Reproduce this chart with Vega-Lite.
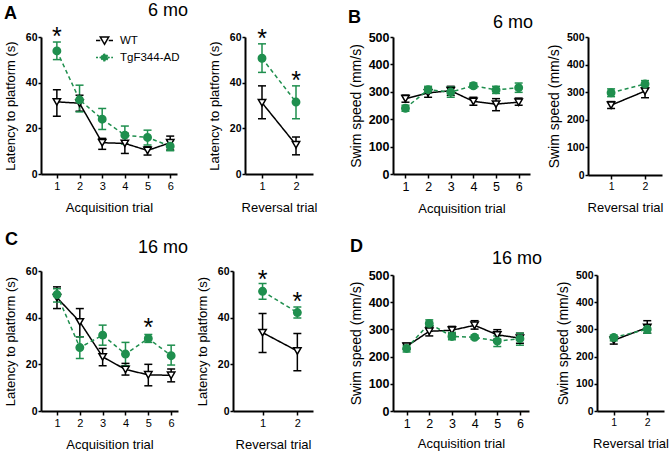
{
  "$schema": "https://vega.github.io/schema/vega-lite/v6.json",
  "padding": {"left": 4, "top": 2, "right": 0, "bottom": 0},
  "data": {"name": "d"},
  "datasets": {
    "d": [
      {"p": "A1", "g": "WT", "t": 1, "m": 31.6, "lo": 25.3, "hi": 36.9},
      {"p": "A1", "g": "WT", "t": 2, "m": 31.0, "lo": 27.5, "hi": 34.5},
      {"p": "A1", "g": "WT", "t": 3, "m": 13.7, "lo": 10.8, "hi": 15.6},
      {"p": "A1", "g": "WT", "t": 4, "m": 13.4, "lo": 9.0, "hi": 17.8},
      {"p": "A1", "g": "WT", "t": 5, "m": 10.3, "lo": 8.3, "hi": 11.9},
      {"p": "A1", "g": "WT", "t": 6, "m": 13.7, "lo": 10.5, "hi": 16.6},
      {"p": "A1", "g": "TgF344-AD", "t": 1, "m": 53.9, "lo": 50.1, "hi": 57.8, "s": 62.6},
      {"p": "A1", "g": "TgF344-AD", "t": 2, "m": 32.5, "lo": 27.2, "hi": 38.9},
      {"p": "A1", "g": "TgF344-AD", "t": 3, "m": 24.0, "lo": 19.5, "hi": 28.7},
      {"p": "A1", "g": "TgF344-AD", "t": 4, "m": 17.0, "lo": 13.1, "hi": 21.0},
      {"p": "A1", "g": "TgF344-AD", "t": 5, "m": 16.0, "lo": 12.7, "hi": 19.2},
      {"p": "A1", "g": "TgF344-AD", "t": 6, "m": 12.2, "lo": 10.2, "hi": 14.6},
      {"p": "A2", "g": "WT", "t": 1, "m": 31.2, "lo": 24.2, "hi": 38.6},
      {"p": "A2", "g": "WT", "t": 2, "m": 12.8, "lo": 8.4, "hi": 16.2},
      {"p": "A2", "g": "TgF344-AD", "t": 1, "m": 50.7, "lo": 44.5, "hi": 57.0, "s": 61.8},
      {"p": "A2", "g": "TgF344-AD", "t": 2, "m": 31.5, "lo": 24.2, "hi": 38.6, "s": 43.2},
      {"p": "B1", "g": "WT", "t": 1, "m": 275, "lo": 262, "hi": 288},
      {"p": "B1", "g": "WT", "t": 2, "m": 296, "lo": 280, "hi": 314},
      {"p": "B1", "g": "WT", "t": 3, "m": 304, "lo": 287, "hi": 320},
      {"p": "B1", "g": "WT", "t": 4, "m": 265, "lo": 251, "hi": 280},
      {"p": "B1", "g": "WT", "t": 5, "m": 255, "lo": 231, "hi": 275},
      {"p": "B1", "g": "WT", "t": 6, "m": 262, "lo": 251, "hi": 277},
      {"p": "B1", "g": "TgF344-AD", "t": 1, "m": 240, "lo": 229, "hi": 251},
      {"p": "B1", "g": "TgF344-AD", "t": 2, "m": 308, "lo": 296, "hi": 320},
      {"p": "B1", "g": "TgF344-AD", "t": 3, "m": 299, "lo": 280, "hi": 318},
      {"p": "B1", "g": "TgF344-AD", "t": 4, "m": 322, "lo": 314, "hi": 332},
      {"p": "B1", "g": "TgF344-AD", "t": 5, "m": 307, "lo": 294, "hi": 320},
      {"p": "B1", "g": "TgF344-AD", "t": 6, "m": 315, "lo": 298, "hi": 332},
      {"p": "B2", "g": "WT", "t": 1, "m": 253, "lo": 241, "hi": 266},
      {"p": "B2", "g": "WT", "t": 2, "m": 304, "lo": 280, "hi": 330},
      {"p": "B2", "g": "TgF344-AD", "t": 1, "m": 298, "lo": 284, "hi": 312},
      {"p": "B2", "g": "TgF344-AD", "t": 2, "m": 330, "lo": 318, "hi": 342},
      {"p": "C1", "g": "WT", "t": 1, "m": 48.6, "lo": 43.9, "hi": 53.2},
      {"p": "C1", "g": "WT", "t": 2, "m": 38.2, "lo": 31.8, "hi": 43.9},
      {"p": "C1", "g": "WT", "t": 3, "m": 23.2, "lo": 19.4, "hi": 26.8},
      {"p": "C1", "g": "WT", "t": 4, "m": 17.8, "lo": 15.4, "hi": 20.4},
      {"p": "C1", "g": "WT", "t": 5, "m": 15.5, "lo": 10.8, "hi": 20.0},
      {"p": "C1", "g": "WT", "t": 6, "m": 15.3, "lo": 12.5, "hi": 18.0},
      {"p": "C1", "g": "TgF344-AD", "t": 1, "m": 49.9, "lo": 46.7, "hi": 52.4},
      {"p": "C1", "g": "TgF344-AD", "t": 2, "m": 27.2, "lo": 22.5, "hi": 31.8},
      {"p": "C1", "g": "TgF344-AD", "t": 3, "m": 32.5, "lo": 28.2, "hi": 36.8},
      {"p": "C1", "g": "TgF344-AD", "t": 4, "m": 24.4, "lo": 19.4, "hi": 29.4},
      {"p": "C1", "g": "TgF344-AD", "t": 5, "m": 31.1, "lo": 29.4, "hi": 32.8, "s": 38.1},
      {"p": "C1", "g": "TgF344-AD", "t": 6, "m": 23.7, "lo": 19.7, "hi": 28.2},
      {"p": "C2", "g": "WT", "t": 1, "m": 33.6, "lo": 25.1, "hi": 41.8},
      {"p": "C2", "g": "WT", "t": 2, "m": 25.7, "lo": 17.2, "hi": 33.2},
      {"p": "C2", "g": "TgF344-AD", "t": 1, "m": 51.3, "lo": 47.9, "hi": 54.6, "s": 58.9},
      {"p": "C2", "g": "TgF344-AD", "t": 2, "m": 42.2, "lo": 39.9, "hi": 44.6, "s": 49.1},
      {"p": "D1", "g": "WT", "t": 1, "m": 238, "lo": 227, "hi": 249},
      {"p": "D1", "g": "WT", "t": 2, "m": 293, "lo": 276, "hi": 311},
      {"p": "D1", "g": "WT", "t": 3, "m": 297, "lo": 283, "hi": 311},
      {"p": "D1", "g": "WT", "t": 4, "m": 315, "lo": 301, "hi": 332},
      {"p": "D1", "g": "WT", "t": 5, "m": 280, "lo": 264, "hi": 299},
      {"p": "D1", "g": "WT", "t": 6, "m": 268, "lo": 249, "hi": 286},
      {"p": "D1", "g": "TgF344-AD", "t": 1, "m": 230, "lo": 217, "hi": 242},
      {"p": "D1", "g": "TgF344-AD", "t": 2, "m": 322, "lo": 307, "hi": 335},
      {"p": "D1", "g": "TgF344-AD", "t": 3, "m": 274, "lo": 262, "hi": 289},
      {"p": "D1", "g": "TgF344-AD", "t": 4, "m": 271, "lo": 264, "hi": 279},
      {"p": "D1", "g": "TgF344-AD", "t": 5, "m": 257, "lo": 237, "hi": 276},
      {"p": "D1", "g": "TgF344-AD", "t": 6, "m": 266, "lo": 242, "hi": 286},
      {"p": "D2", "g": "WT", "t": 1, "m": 260, "lo": 246, "hi": 270},
      {"p": "D2", "g": "WT", "t": 2, "m": 307, "lo": 286, "hi": 332},
      {"p": "D2", "g": "TgF344-AD", "t": 1, "m": 270, "lo": 258, "hi": 279},
      {"p": "D2", "g": "TgF344-AD", "t": 2, "m": 301, "lo": 286, "hi": 316}
    ]
  },
  "spacing": 31,
  "resolve": {"scale": {"color": "independent", "fill": "independent", "shape": "independent", "strokeDash": "independent"}, "legend": {"color": "independent", "fill": "independent", "shape": "independent", "strokeDash": "independent"}},
  "hconcat": [
    {
      "spacing": 17,
      "resolve": {"scale": {"color": "independent", "fill": "independent", "shape": "independent", "strokeDash": "independent"}, "legend": {"color": "independent", "fill": "independent", "shape": "independent", "strokeDash": "independent"}},
      "vconcat": [
        {
          "bounds": "flush",
          "spacing": 68,
          "title": {"text": "6 mo", "anchor": "start", "frame": "group", "dx": 107, "offset": -15, "fontWeight": "normal", "fontSize": 18},
          "resolve": {"scale": {"color": "independent", "fill": "independent", "shape": "independent", "strokeDash": "independent"}, "legend": {"color": "independent", "fill": "independent", "shape": "independent", "strokeDash": "independent"}},
          "hconcat": [
            {
              "width": 136, "height": 137,
              "title": {"text": "A", "dx": -37, "offset": 2, "fontWeight": "bold"},
              "transform": [{"filter": "datum.p === 'A1'"}],
              "resolve": {"scale": {"color": "independent", "fill": "independent", "shape": "independent", "strokeDash": "independent"}, "legend": {"color": "independent", "fill": "independent", "shape": "independent", "strokeDash": "independent"}},
              "encoding": {
                "x": {"field": "t", "type": "quantitative", "scale": {"domain": [0.3, 6.3], "nice": false, "zero": false}, "axis": {"values": [1, 2, 3, 4, 5, 6], "format": "d", "title": "Acquisition trial"}},
                "color": {"field": "g", "type": "nominal", "scale": {"domain": ["WT", "TgF344-AD"], "range": ["#000000", "#1f8f4e"]}, "legend": null}
              },
              "layer": [
                {"mark": {"type": "rule", "strokeWidth": 1.5}, "encoding": {"y": {"field": "lo", "type": "quantitative", "scale": {"domain": [0, 60], "nice": false, "zero": false}, "axis": {"values": [0, 20, 40, 60], "title": "Latency to platform (s)"}}, "y2": {"field": "hi"}}},
                {"mark": {"type": "tick", "orient": "horizontal", "size": 8, "thickness": 1.5, "opacity": 1}, "encoding": {"y": {"field": "lo", "type": "quantitative", "scale": {"domain": [0, 60], "nice": false, "zero": false}, "axis": {"values": [0, 20, 40, 60], "title": "Latency to platform (s)"}}}},
                {"mark": {"type": "tick", "orient": "horizontal", "size": 8, "thickness": 1.5, "opacity": 1}, "encoding": {"y": {"field": "hi", "type": "quantitative", "scale": {"domain": [0, 60], "nice": false, "zero": false}, "axis": {"values": [0, 20, 40, 60], "title": "Latency to platform (s)"}}}},
                {"mark": {"type": "line", "strokeWidth": 1.5}, "encoding": {"y": {"field": "m", "type": "quantitative", "scale": {"domain": [0, 60], "nice": false, "zero": false}, "axis": {"values": [0, 20, 40, 60], "title": "Latency to platform (s)"}}, "strokeDash": {"field": "g", "type": "nominal", "scale": {"domain": ["WT", "TgF344-AD"], "range": [[1, 0], [4, 3]]}, "legend": null}}},
                {"mark": {"type": "point", "size": 55, "strokeWidth": 1.5, "opacity": 1}, "encoding": {"y": {"field": "m", "type": "quantitative", "scale": {"domain": [0, 60], "nice": false, "zero": false}, "axis": {"values": [0, 20, 40, 60], "title": "Latency to platform (s)"}}, "shape": {"field": "g", "type": "nominal", "scale": {"domain": ["WT", "TgF344-AD"], "range": ["triangle-down", "circle"]}, "legend": null}, "fill": {"field": "g", "type": "nominal", "scale": {"domain": ["WT", "TgF344-AD"], "range": ["#ffffff", "#1f8f4e"]}, "legend": null}}},
                {"transform": [{"filter": "isValid(datum.s)"}], "mark": {"type": "text", "text": "*", "fontSize": 25, "dy": 14, "baseline": "alphabetic"}, "encoding": {"y": {"field": "s", "type": "quantitative", "scale": {"domain": [0, 60], "nice": false, "zero": false}, "axis": {"values": [0, 20, 40, 60], "title": "Latency to platform (s)"}}, "color": {"value": "#000000"}}},
                {"transform": [{"filter": "false"}], "mark": {"type": "point", "strokeWidth": 1.5, "opacity": 1},
                  "encoding": {
                    "y": {"field": "m", "type": "quantitative", "scale": {"domain": [0, 60], "nice": false, "zero": false}, "axis": {"values": [0, 20, 40, 60], "title": "Latency to platform (s)"}},
                    "color": {"field": "g", "type": "nominal", "scale": {"domain": ["WT", "TgF344-AD"], "range": ["#000000", "#1f8f4e"]},
                      "legend": {"orient": "none", "legendX": 54, "legendY": -6, "title": null, "padding": 0, "symbolSize": 289, "symbolStrokeWidth": 1.5, "symbolFillColor": "#ffffff", "symbolOpacity": 1, "labelFontSize": 11.5, "labelFont": "Liberation Sans", "labelColor": "#000000", "labelOffset": 6, "rowPadding": -1}},
                    "fill": {"field": "g", "type": "nominal", "scale": {"domain": ["WT", "TgF344-AD"], "range": ["#ffffff", "#1f8f4e"]},
                      "legend": {"orient": "none", "legendX": 54, "legendY": -6, "title": null, "padding": 0, "symbolSize": 289, "symbolStrokeWidth": 1.5, "symbolFillColor": "#ffffff", "symbolOpacity": 1, "labelFontSize": 11.5, "labelFont": "Liberation Sans", "labelColor": "#000000", "labelOffset": 6, "rowPadding": -1}},
                    "shape": {"field": "g", "type": "nominal", "scale": {"domain": ["WT", "TgF344-AD"], "range": ["M-1,0H-0.5M0.5,0H1M-0.5,-0.42L0.5,-0.42L0,0.45Z", "M-1,0H-0.38M0.38,0H1M-0.38,0A0.38,0.38,0,1,1,0.38,0A0.38,0.38,0,1,1,-0.38,0Z"]},
                      "legend": {"orient": "none", "legendX": 54, "legendY": -6, "title": null, "padding": 0, "symbolSize": 289, "symbolStrokeWidth": 1.5, "symbolFillColor": "#ffffff", "symbolOpacity": 1, "labelFontSize": 11.5, "labelFont": "Liberation Sans", "labelColor": "#000000", "labelOffset": 6, "rowPadding": -1}},
                    "strokeDash": {"field": "g", "type": "nominal", "scale": {"domain": ["WT", "TgF344-AD"], "range": [[1, 0], [2, 1.5]]},
                      "legend": {"orient": "none", "legendX": 54, "legendY": -6, "title": null, "padding": 0, "symbolSize": 289, "symbolStrokeWidth": 1.5, "symbolFillColor": "#ffffff", "symbolOpacity": 1, "labelFontSize": 11.5, "labelFont": "Liberation Sans", "labelColor": "#000000", "labelOffset": 6, "rowPadding": -1}}
                  }}
              ]
            },
            {
              "width": 68, "height": 137,
              "transform": [{"filter": "datum.p === 'A2'"}],
              "encoding": {
                "x": {"field": "t", "type": "quantitative", "scale": {"domain": [0.5, 2.5], "nice": false, "zero": false}, "axis": {"values": [1, 2], "format": "d", "title": "Reversal trial"}},
                "color": {"field": "g", "type": "nominal", "scale": {"domain": ["WT", "TgF344-AD"], "range": ["#000000", "#1f8f4e"]}, "legend": null}
              },
              "layer": [
                {"mark": {"type": "rule", "strokeWidth": 1.5}, "encoding": {"y": {"field": "lo", "type": "quantitative", "scale": {"domain": [0, 60], "nice": false, "zero": false}, "axis": {"values": [0, 20, 40, 60], "title": "Latency to platform (s)"}}, "y2": {"field": "hi"}}},
                {"mark": {"type": "tick", "orient": "horizontal", "size": 8, "thickness": 1.5, "opacity": 1}, "encoding": {"y": {"field": "lo", "type": "quantitative", "scale": {"domain": [0, 60], "nice": false, "zero": false}, "axis": {"values": [0, 20, 40, 60], "title": "Latency to platform (s)"}}}},
                {"mark": {"type": "tick", "orient": "horizontal", "size": 8, "thickness": 1.5, "opacity": 1}, "encoding": {"y": {"field": "hi", "type": "quantitative", "scale": {"domain": [0, 60], "nice": false, "zero": false}, "axis": {"values": [0, 20, 40, 60], "title": "Latency to platform (s)"}}}},
                {"mark": {"type": "line", "strokeWidth": 1.5}, "encoding": {"y": {"field": "m", "type": "quantitative", "scale": {"domain": [0, 60], "nice": false, "zero": false}, "axis": {"values": [0, 20, 40, 60], "title": "Latency to platform (s)"}}, "strokeDash": {"field": "g", "type": "nominal", "scale": {"domain": ["WT", "TgF344-AD"], "range": [[1, 0], [4, 3]]}, "legend": null}}},
                {"mark": {"type": "point", "size": 55, "strokeWidth": 1.5, "opacity": 1}, "encoding": {"y": {"field": "m", "type": "quantitative", "scale": {"domain": [0, 60], "nice": false, "zero": false}, "axis": {"values": [0, 20, 40, 60], "title": "Latency to platform (s)"}}, "shape": {"field": "g", "type": "nominal", "scale": {"domain": ["WT", "TgF344-AD"], "range": ["triangle-down", "circle"]}, "legend": null}, "fill": {"field": "g", "type": "nominal", "scale": {"domain": ["WT", "TgF344-AD"], "range": ["#ffffff", "#1f8f4e"]}, "legend": null}}},
                {"transform": [{"filter": "isValid(datum.s)"}], "mark": {"type": "text", "text": "*", "fontSize": 25, "dy": 14, "baseline": "alphabetic"}, "encoding": {"y": {"field": "s", "type": "quantitative", "scale": {"domain": [0, 60], "nice": false, "zero": false}, "axis": {"values": [0, 20, 40, 60], "title": "Latency to platform (s)"}}, "color": {"value": "#000000"}}}
              ]
            }
          ]
        },
        {
          "bounds": "flush",
          "spacing": 55,
          "title": {"text": "16 mo", "anchor": "start", "frame": "group", "dx": 97, "offset": -26, "fontWeight": "normal", "fontSize": 18},
          "resolve": {"scale": {"color": "independent", "fill": "independent", "shape": "independent", "strokeDash": "independent"}, "legend": {"color": "independent", "fill": "independent", "shape": "independent", "strokeDash": "independent"}},
          "hconcat": [
            {
              "width": 137, "height": 140,
              "title": {"text": "C", "dx": -36, "offset": 17, "fontWeight": "bold"},
              "transform": [{"filter": "datum.p === 'C1'"}],
              "encoding": {
                "x": {"field": "t", "type": "quantitative", "scale": {"domain": [0.3, 6.3], "nice": false, "zero": false}, "axis": {"values": [1, 2, 3, 4, 5, 6], "format": "d", "title": "Acquisition trial"}},
                "color": {"field": "g", "type": "nominal", "scale": {"domain": ["WT", "TgF344-AD"], "range": ["#000000", "#1f8f4e"]}, "legend": null}
              },
              "layer": [
                {"mark": {"type": "rule", "strokeWidth": 1.5}, "encoding": {"y": {"field": "lo", "type": "quantitative", "scale": {"domain": [0, 60], "nice": false, "zero": false}, "axis": {"values": [0, 20, 40, 60], "title": "Latency to platform (s)"}}, "y2": {"field": "hi"}}},
                {"mark": {"type": "tick", "orient": "horizontal", "size": 8, "thickness": 1.5, "opacity": 1}, "encoding": {"y": {"field": "lo", "type": "quantitative", "scale": {"domain": [0, 60], "nice": false, "zero": false}, "axis": {"values": [0, 20, 40, 60], "title": "Latency to platform (s)"}}}},
                {"mark": {"type": "tick", "orient": "horizontal", "size": 8, "thickness": 1.5, "opacity": 1}, "encoding": {"y": {"field": "hi", "type": "quantitative", "scale": {"domain": [0, 60], "nice": false, "zero": false}, "axis": {"values": [0, 20, 40, 60], "title": "Latency to platform (s)"}}}},
                {"mark": {"type": "line", "strokeWidth": 1.5}, "encoding": {"y": {"field": "m", "type": "quantitative", "scale": {"domain": [0, 60], "nice": false, "zero": false}, "axis": {"values": [0, 20, 40, 60], "title": "Latency to platform (s)"}}, "strokeDash": {"field": "g", "type": "nominal", "scale": {"domain": ["WT", "TgF344-AD"], "range": [[1, 0], [4, 3]]}, "legend": null}}},
                {"mark": {"type": "point", "size": 55, "strokeWidth": 1.5, "opacity": 1}, "encoding": {"y": {"field": "m", "type": "quantitative", "scale": {"domain": [0, 60], "nice": false, "zero": false}, "axis": {"values": [0, 20, 40, 60], "title": "Latency to platform (s)"}}, "shape": {"field": "g", "type": "nominal", "scale": {"domain": ["WT", "TgF344-AD"], "range": ["triangle-down", "circle"]}, "legend": null}, "fill": {"field": "g", "type": "nominal", "scale": {"domain": ["WT", "TgF344-AD"], "range": ["#ffffff", "#1f8f4e"]}, "legend": null}}},
                {"transform": [{"filter": "isValid(datum.s)"}], "mark": {"type": "text", "text": "*", "fontSize": 25, "dy": 14, "baseline": "alphabetic"}, "encoding": {"y": {"field": "s", "type": "quantitative", "scale": {"domain": [0, 60], "nice": false, "zero": false}, "axis": {"values": [0, 20, 40, 60], "title": "Latency to platform (s)"}}, "color": {"value": "#000000"}}}
              ]
            },
            {
              "width": 80, "height": 140,
              "transform": [{"filter": "datum.p === 'C2'"}],
              "encoding": {
                "x": {"field": "t", "type": "quantitative", "scale": {"domain": [0.15, 2.45], "nice": false, "zero": false}, "axis": {"values": [1, 2], "format": "d", "title": "Reversal trial"}},
                "color": {"field": "g", "type": "nominal", "scale": {"domain": ["WT", "TgF344-AD"], "range": ["#000000", "#1f8f4e"]}, "legend": null}
              },
              "layer": [
                {"mark": {"type": "rule", "strokeWidth": 1.5}, "encoding": {"y": {"field": "lo", "type": "quantitative", "scale": {"domain": [0, 60], "nice": false, "zero": false}, "axis": {"values": [0, 20, 40, 60], "title": "Latency to platform (s)"}}, "y2": {"field": "hi"}}},
                {"mark": {"type": "tick", "orient": "horizontal", "size": 8, "thickness": 1.5, "opacity": 1}, "encoding": {"y": {"field": "lo", "type": "quantitative", "scale": {"domain": [0, 60], "nice": false, "zero": false}, "axis": {"values": [0, 20, 40, 60], "title": "Latency to platform (s)"}}}},
                {"mark": {"type": "tick", "orient": "horizontal", "size": 8, "thickness": 1.5, "opacity": 1}, "encoding": {"y": {"field": "hi", "type": "quantitative", "scale": {"domain": [0, 60], "nice": false, "zero": false}, "axis": {"values": [0, 20, 40, 60], "title": "Latency to platform (s)"}}}},
                {"mark": {"type": "line", "strokeWidth": 1.5}, "encoding": {"y": {"field": "m", "type": "quantitative", "scale": {"domain": [0, 60], "nice": false, "zero": false}, "axis": {"values": [0, 20, 40, 60], "title": "Latency to platform (s)"}}, "strokeDash": {"field": "g", "type": "nominal", "scale": {"domain": ["WT", "TgF344-AD"], "range": [[1, 0], [4, 3]]}, "legend": null}}},
                {"mark": {"type": "point", "size": 55, "strokeWidth": 1.5, "opacity": 1}, "encoding": {"y": {"field": "m", "type": "quantitative", "scale": {"domain": [0, 60], "nice": false, "zero": false}, "axis": {"values": [0, 20, 40, 60], "title": "Latency to platform (s)"}}, "shape": {"field": "g", "type": "nominal", "scale": {"domain": ["WT", "TgF344-AD"], "range": ["triangle-down", "circle"]}, "legend": null}, "fill": {"field": "g", "type": "nominal", "scale": {"domain": ["WT", "TgF344-AD"], "range": ["#ffffff", "#1f8f4e"]}, "legend": null}}},
                {"transform": [{"filter": "isValid(datum.s)"}], "mark": {"type": "text", "text": "*", "fontSize": 25, "dy": 14, "baseline": "alphabetic"}, "encoding": {"y": {"field": "s", "type": "quantitative", "scale": {"domain": [0, 60], "nice": false, "zero": false}, "axis": {"values": [0, 20, 40, 60], "title": "Latency to platform (s)"}}, "color": {"value": "#000000"}}}
              ]
            }
          ]
        }
      ]
    },
    {
      "spacing": 21,
      "resolve": {"scale": {"color": "independent", "fill": "independent", "shape": "independent", "strokeDash": "independent"}, "legend": {"color": "independent", "fill": "independent", "shape": "independent", "strokeDash": "independent"}},
      "vconcat": [
        {
          "bounds": "flush",
          "spacing": 58,
          "title": {"text": "6 mo", "anchor": "start", "frame": "group", "dx": 100, "offset": -23, "fontWeight": "normal", "fontSize": 18},
          "resolve": {"scale": {"color": "independent", "fill": "independent", "shape": "independent", "strokeDash": "independent"}, "legend": {"color": "independent", "fill": "independent", "shape": "independent", "strokeDash": "independent"}},
          "hconcat": [
            {
              "width": 137, "height": 137,
              "title": {"text": "B", "dx": -45, "offset": 4.5, "fontWeight": "bold"},
              "transform": [{"filter": "datum.p === 'B1'"}],
              "encoding": {
                "x": {"field": "t", "type": "quantitative", "scale": {"domain": [0.45, 6.5], "nice": false, "zero": false}, "axis": {"values": [1, 2, 3, 4, 5, 6], "format": "d", "title": "Acquisition trial", "labelFontSize": 12.5}},
                "color": {"field": "g", "type": "nominal", "scale": {"domain": ["WT", "TgF344-AD"], "range": ["#000000", "#1f8f4e"]}, "legend": null}
              },
              "layer": [
                {"mark": {"type": "rule", "strokeWidth": 1.5}, "encoding": {"y": {"field": "lo", "type": "quantitative", "scale": {"domain": [0, 500], "nice": false, "zero": false}, "axis": {"values": [0, 100, 200, 300, 400, 500], "title": "Swim speed (mm/s)", "labelFontSize": 12.5, "titleFontSize": 14, "titlePadding": 5}}, "y2": {"field": "hi"}}},
                {"mark": {"type": "tick", "orient": "horizontal", "size": 8, "thickness": 1.5, "opacity": 1}, "encoding": {"y": {"field": "lo", "type": "quantitative", "scale": {"domain": [0, 500], "nice": false, "zero": false}, "axis": {"values": [0, 100, 200, 300, 400, 500], "title": "Swim speed (mm/s)", "labelFontSize": 12.5, "titleFontSize": 14, "titlePadding": 5}}}},
                {"mark": {"type": "tick", "orient": "horizontal", "size": 8, "thickness": 1.5, "opacity": 1}, "encoding": {"y": {"field": "hi", "type": "quantitative", "scale": {"domain": [0, 500], "nice": false, "zero": false}, "axis": {"values": [0, 100, 200, 300, 400, 500], "title": "Swim speed (mm/s)", "labelFontSize": 12.5, "titleFontSize": 14, "titlePadding": 5}}}},
                {"mark": {"type": "line", "strokeWidth": 1.5}, "encoding": {"y": {"field": "m", "type": "quantitative", "scale": {"domain": [0, 500], "nice": false, "zero": false}, "axis": {"values": [0, 100, 200, 300, 400, 500], "title": "Swim speed (mm/s)", "labelFontSize": 12.5, "titleFontSize": 14, "titlePadding": 5}}, "strokeDash": {"field": "g", "type": "nominal", "scale": {"domain": ["WT", "TgF344-AD"], "range": [[1, 0], [4, 3]]}, "legend": null}}},
                {"mark": {"type": "point", "size": 55, "strokeWidth": 1.5, "opacity": 1}, "encoding": {"y": {"field": "m", "type": "quantitative", "scale": {"domain": [0, 500], "nice": false, "zero": false}, "axis": {"values": [0, 100, 200, 300, 400, 500], "title": "Swim speed (mm/s)", "labelFontSize": 12.5, "titleFontSize": 14, "titlePadding": 5}}, "shape": {"field": "g", "type": "nominal", "scale": {"domain": ["WT", "TgF344-AD"], "range": ["triangle-down", "circle"]}, "legend": null}, "fill": {"field": "g", "type": "nominal", "scale": {"domain": ["WT", "TgF344-AD"], "range": ["#ffffff", "#1f8f4e"]}, "legend": null}}}
              ]
            },
            {
              "width": 74, "height": 138,
              "transform": [{"filter": "datum.p === 'B2'"}],
              "encoding": {
                "x": {"field": "t", "type": "quantitative", "scale": {"domain": [0.32, 2.5], "nice": false, "zero": false}, "axis": {"values": [1, 2], "format": "d", "title": "Reversal trial", "labelFontSize": 10.5}},
                "color": {"field": "g", "type": "nominal", "scale": {"domain": ["WT", "TgF344-AD"], "range": ["#000000", "#1f8f4e"]}, "legend": null}
              },
              "layer": [
                {"mark": {"type": "rule", "strokeWidth": 1.5}, "encoding": {"y": {"field": "lo", "type": "quantitative", "scale": {"domain": [0, 500], "nice": false, "zero": false}, "axis": {"values": [0, 100, 200, 300, 400, 500], "title": "Swim speed (mm/s)", "titleFontSize": 14, "titlePadding": 5}}, "y2": {"field": "hi"}}},
                {"mark": {"type": "tick", "orient": "horizontal", "size": 8, "thickness": 1.5, "opacity": 1}, "encoding": {"y": {"field": "lo", "type": "quantitative", "scale": {"domain": [0, 500], "nice": false, "zero": false}, "axis": {"values": [0, 100, 200, 300, 400, 500], "title": "Swim speed (mm/s)", "titleFontSize": 14, "titlePadding": 5}}}},
                {"mark": {"type": "tick", "orient": "horizontal", "size": 8, "thickness": 1.5, "opacity": 1}, "encoding": {"y": {"field": "hi", "type": "quantitative", "scale": {"domain": [0, 500], "nice": false, "zero": false}, "axis": {"values": [0, 100, 200, 300, 400, 500], "title": "Swim speed (mm/s)", "titleFontSize": 14, "titlePadding": 5}}}},
                {"mark": {"type": "line", "strokeWidth": 1.5}, "encoding": {"y": {"field": "m", "type": "quantitative", "scale": {"domain": [0, 500], "nice": false, "zero": false}, "axis": {"values": [0, 100, 200, 300, 400, 500], "title": "Swim speed (mm/s)", "titleFontSize": 14, "titlePadding": 5}}, "strokeDash": {"field": "g", "type": "nominal", "scale": {"domain": ["WT", "TgF344-AD"], "range": [[1, 0], [4, 3]]}, "legend": null}}},
                {"mark": {"type": "point", "size": 55, "strokeWidth": 1.5, "opacity": 1}, "encoding": {"y": {"field": "m", "type": "quantitative", "scale": {"domain": [0, 500], "nice": false, "zero": false}, "axis": {"values": [0, 100, 200, 300, 400, 500], "title": "Swim speed (mm/s)", "titleFontSize": 14, "titlePadding": 5}}, "shape": {"field": "g", "type": "nominal", "scale": {"domain": ["WT", "TgF344-AD"], "range": ["triangle-down", "circle"]}, "legend": null}, "fill": {"field": "g", "type": "nominal", "scale": {"domain": ["WT", "TgF344-AD"], "range": ["#ffffff", "#1f8f4e"]}, "legend": null}}}
              ]
            }
          ]
        },
        {
          "bounds": "flush",
          "spacing": 68,
          "title": {"text": "16 mo", "anchor": "start", "frame": "group", "dx": 99, "offset": -30, "fontWeight": "normal", "fontSize": 18},
          "resolve": {"scale": {"color": "independent", "fill": "independent", "shape": "independent", "strokeDash": "independent"}, "legend": {"color": "independent", "fill": "independent", "shape": "independent", "strokeDash": "independent"}},
          "hconcat": [
            {
              "width": 136, "height": 136,
              "title": {"text": "D", "dx": -43, "offset": 13.5, "fontWeight": "bold"},
              "transform": [{"filter": "datum.p === 'D1'"}],
              "encoding": {
                "x": {"field": "t", "type": "quantitative", "scale": {"domain": [0.4, 6.4], "nice": false, "zero": false}, "axis": {"values": [1, 2, 3, 4, 5, 6], "format": "d", "title": "Acquisition trial", "labelFontSize": 12.5, "titlePadding": 8}},
                "color": {"field": "g", "type": "nominal", "scale": {"domain": ["WT", "TgF344-AD"], "range": ["#000000", "#1f8f4e"]}, "legend": null}
              },
              "layer": [
                {"mark": {"type": "rule", "strokeWidth": 1.5}, "encoding": {"y": {"field": "lo", "type": "quantitative", "scale": {"domain": [0, 500], "nice": false, "zero": false}, "axis": {"values": [0, 100, 200, 300, 400, 500], "title": "Swim speed (mm/s)", "labelFontSize": 12.5, "titleFontSize": 14, "titlePadding": 5}}, "y2": {"field": "hi"}}},
                {"mark": {"type": "tick", "orient": "horizontal", "size": 8, "thickness": 1.5, "opacity": 1}, "encoding": {"y": {"field": "lo", "type": "quantitative", "scale": {"domain": [0, 500], "nice": false, "zero": false}, "axis": {"values": [0, 100, 200, 300, 400, 500], "title": "Swim speed (mm/s)", "labelFontSize": 12.5, "titleFontSize": 14, "titlePadding": 5}}}},
                {"mark": {"type": "tick", "orient": "horizontal", "size": 8, "thickness": 1.5, "opacity": 1}, "encoding": {"y": {"field": "hi", "type": "quantitative", "scale": {"domain": [0, 500], "nice": false, "zero": false}, "axis": {"values": [0, 100, 200, 300, 400, 500], "title": "Swim speed (mm/s)", "labelFontSize": 12.5, "titleFontSize": 14, "titlePadding": 5}}}},
                {"mark": {"type": "line", "strokeWidth": 1.5}, "encoding": {"y": {"field": "m", "type": "quantitative", "scale": {"domain": [0, 500], "nice": false, "zero": false}, "axis": {"values": [0, 100, 200, 300, 400, 500], "title": "Swim speed (mm/s)", "labelFontSize": 12.5, "titleFontSize": 14, "titlePadding": 5}}, "strokeDash": {"field": "g", "type": "nominal", "scale": {"domain": ["WT", "TgF344-AD"], "range": [[1, 0], [4, 3]]}, "legend": null}}},
                {"mark": {"type": "point", "size": 55, "strokeWidth": 1.5, "opacity": 1}, "encoding": {"y": {"field": "m", "type": "quantitative", "scale": {"domain": [0, 500], "nice": false, "zero": false}, "axis": {"values": [0, 100, 200, 300, 400, 500], "title": "Swim speed (mm/s)", "labelFontSize": 12.5, "titleFontSize": 14, "titlePadding": 5}}, "shape": {"field": "g", "type": "nominal", "scale": {"domain": ["WT", "TgF344-AD"], "range": ["triangle-down", "circle"]}, "legend": null}, "fill": {"field": "g", "type": "nominal", "scale": {"domain": ["WT", "TgF344-AD"], "range": ["#ffffff", "#1f8f4e"]}, "legend": null}}}
              ]
            },
            {
              "width": 67, "height": 136,
              "transform": [{"filter": "datum.p === 'D2'"}],
              "encoding": {
                "x": {"field": "t", "type": "quantitative", "scale": {"domain": [0.5, 2.5], "nice": false, "zero": false}, "axis": {"values": [1, 2], "format": "d", "title": "Reversal trial", "labelFontSize": 10.5}},
                "color": {"field": "g", "type": "nominal", "scale": {"domain": ["WT", "TgF344-AD"], "range": ["#000000", "#1f8f4e"]}, "legend": null}
              },
              "layer": [
                {"mark": {"type": "rule", "strokeWidth": 1.5}, "encoding": {"y": {"field": "lo", "type": "quantitative", "scale": {"domain": [0, 500], "nice": false, "zero": false}, "axis": {"values": [0, 100, 200, 300, 400, 500], "title": "Swim speed (mm/s)", "titleFontSize": 14, "titlePadding": 5}}, "y2": {"field": "hi"}}},
                {"mark": {"type": "tick", "orient": "horizontal", "size": 8, "thickness": 1.5, "opacity": 1}, "encoding": {"y": {"field": "lo", "type": "quantitative", "scale": {"domain": [0, 500], "nice": false, "zero": false}, "axis": {"values": [0, 100, 200, 300, 400, 500], "title": "Swim speed (mm/s)", "titleFontSize": 14, "titlePadding": 5}}}},
                {"mark": {"type": "tick", "orient": "horizontal", "size": 8, "thickness": 1.5, "opacity": 1}, "encoding": {"y": {"field": "hi", "type": "quantitative", "scale": {"domain": [0, 500], "nice": false, "zero": false}, "axis": {"values": [0, 100, 200, 300, 400, 500], "title": "Swim speed (mm/s)", "titleFontSize": 14, "titlePadding": 5}}}},
                {"mark": {"type": "line", "strokeWidth": 1.5}, "encoding": {"y": {"field": "m", "type": "quantitative", "scale": {"domain": [0, 500], "nice": false, "zero": false}, "axis": {"values": [0, 100, 200, 300, 400, 500], "title": "Swim speed (mm/s)", "titleFontSize": 14, "titlePadding": 5}}, "strokeDash": {"field": "g", "type": "nominal", "scale": {"domain": ["WT", "TgF344-AD"], "range": [[1, 0], [4, 3]]}, "legend": null}}},
                {"mark": {"type": "point", "size": 55, "strokeWidth": 1.5, "opacity": 1}, "encoding": {"y": {"field": "m", "type": "quantitative", "scale": {"domain": [0, 500], "nice": false, "zero": false}, "axis": {"values": [0, 100, 200, 300, 400, 500], "title": "Swim speed (mm/s)", "titleFontSize": 14, "titlePadding": 5}}, "shape": {"field": "g", "type": "nominal", "scale": {"domain": ["WT", "TgF344-AD"], "range": ["triangle-down", "circle"]}, "legend": null}, "fill": {"field": "g", "type": "nominal", "scale": {"domain": ["WT", "TgF344-AD"], "range": ["#ffffff", "#1f8f4e"]}, "legend": null}}}
              ]
            }
          ]
        }
      ]
    }
  ],
  "config": {
    "font": "Liberation Sans",
    "view": {"stroke": null},
    "axis": {"grid": false, "domainColor": "#000000", "domainWidth": 2, "tickColor": "#000000", "tickWidth": 1.5, "labelColor": "#000000", "titleColor": "#000000", "titleFontWeight": "normal", "titleFontSize": 13, "labelFont": "Liberation Sans", "titleFont": "Liberation Sans"},
    "axisX": {"tickSize": 4, "labelPadding": 2, "labelFontSize": 11, "titlePadding": 10, "labelAngle": 0},
    "axisY": {"tickSize": 3, "labelPadding": 1, "labelFontSize": 10.5, "labelFontWeight": "bold", "titlePadding": 8},
    "title": {"font": "Liberation Sans", "fontSize": 18, "fontWeight": "normal", "color": "#000000", "anchor": "start", "frame": "group", "baseline": "alphabetic"}
  }
}
